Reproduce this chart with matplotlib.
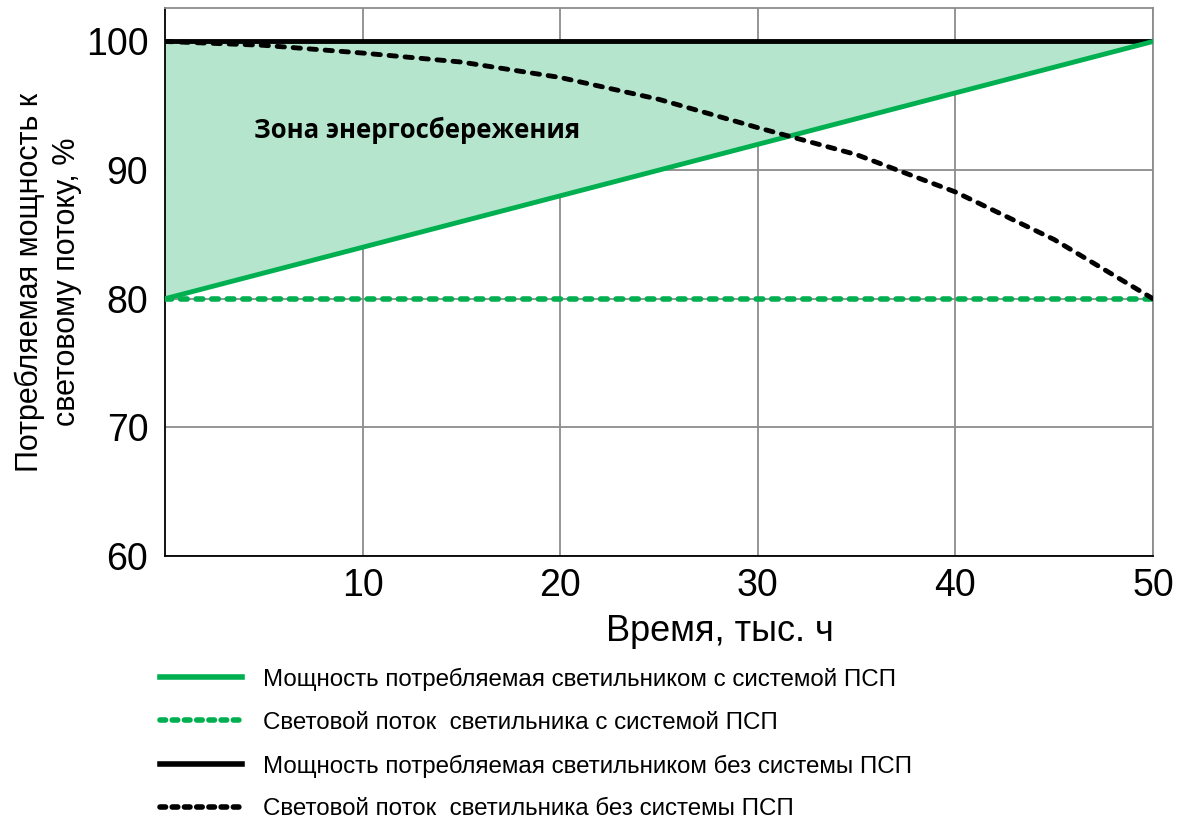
import numpy as np
import matplotlib.pyplot as plt
from matplotlib.lines import Line2D

# data
time_k = [0, 50]
power_psp = [80, 100]
flux_psp = [80, 80]
power_no_psp = [100, 100]

time_flux = [0, 5, 10, 15, 20, 25, 30, 35, 40, 45, 50]
flux_no_psp = [100, 99.7, 99.1, 98.4, 97.2, 95.5, 93.3, 91.2, 88.3, 84.6, 80]

labels = [
    "Мощность потребляемая светильником с системой ПСП",
    "Световой поток  светильника с системой ПСП",
    "Мощность потребляемая светильником без системы ПСП",
    "Световой поток  светильника без системы ПСП",
]

GREEN = "#00b050"
FILL = "#b5e6cd"
SANS = ["Liberation Sans", "DejaVu Sans"]


def main():
    fig = plt.figure(figsize=(11.8, 8.27), dpi=100)
    ax = fig.add_axes([0.1398, 0.3277, 0.8373, 0.6626])

    ax.fill_between(time_k, power_psp, power_no_psp, color=FILL, lw=0, zorder=1)
    ax.grid(True, color="#8c8c8c", lw=1.3, zorder=0)
    ax.set_axisbelow(True)

    ax.plot(time_k, flux_psp, color=GREEN, lw=4, ls=(0, (1.2, 1.6)),
            dash_capstyle="round", zorder=3)
    ax.plot(time_k, power_no_psp, color="black", lw=3.5, zorder=4)
    ax.plot(time_flux, flux_no_psp, color="black", lw=3.5, ls=(0, (1.5, 1.8)),
            dash_capstyle="round", zorder=5)
    ax.plot(time_k, power_psp, color=GREEN, lw=3.5, zorder=4)

    ax.text(4.5, 93.1, "Зона энергосбережения", fontsize=18.5, fontweight="bold",
            family=["Open Sans", "DejaVu Sans"], va="center", ha="left")

    ax.set_xlim(0, 50)
    ax.set_ylim(60, 102.6)
    ax.set_xticks([10, 20, 30, 40, 50])
    ax.set_yticks([60, 70, 80, 90, 100])
    ax.tick_params(length=0, labelsize=27)
    ax.tick_params(axis="y", pad=12)
    ax.tick_params(axis="x", pad=9)
    for lab in ax.get_xticklabels() + ax.get_yticklabels():
        lab.set_family(SANS)
    for s in ["left", "bottom"]:
        ax.spines[s].set_color("black")
        ax.spines[s].set_linewidth(1.3)
    for s in ["top", "right"]:
        ax.spines[s].set_color("#8c8c8c")
        ax.spines[s].set_linewidth(1.3)

    ax.set_xlabel("Время, тыс. ч", fontsize=26, family=SANS)
    ax.xaxis.set_label_coords(0.562, -0.105)
    ax.set_ylabel("Потребляемая мощность к\nсветовому потоку, %", fontsize=22,
                  family=SANS, labelpad=3, linespacing=1.3)

    handles = [
        Line2D([], [], color=GREEN, lw=4),
        Line2D([], [], color=GREEN, lw=4, ls=(0, (1.0, 1.2)), dash_capstyle="round"),
        Line2D([], [], color="black", lw=4),
        Line2D([], [], color="black", lw=4, ls=(0, (1.0, 1.2)), dash_capstyle="round"),
    ]
    fig.legend(handles, labels, loc="upper left", bbox_to_anchor=(0.117, 0.219),
               frameon=False, handlelength=3.4, handletextpad=0.85,
               labelspacing=0.86, prop={"family": SANS, "size": 17.4})

    fig.savefig("out.png", dpi=100)


if __name__ == '__main__':
    main()
